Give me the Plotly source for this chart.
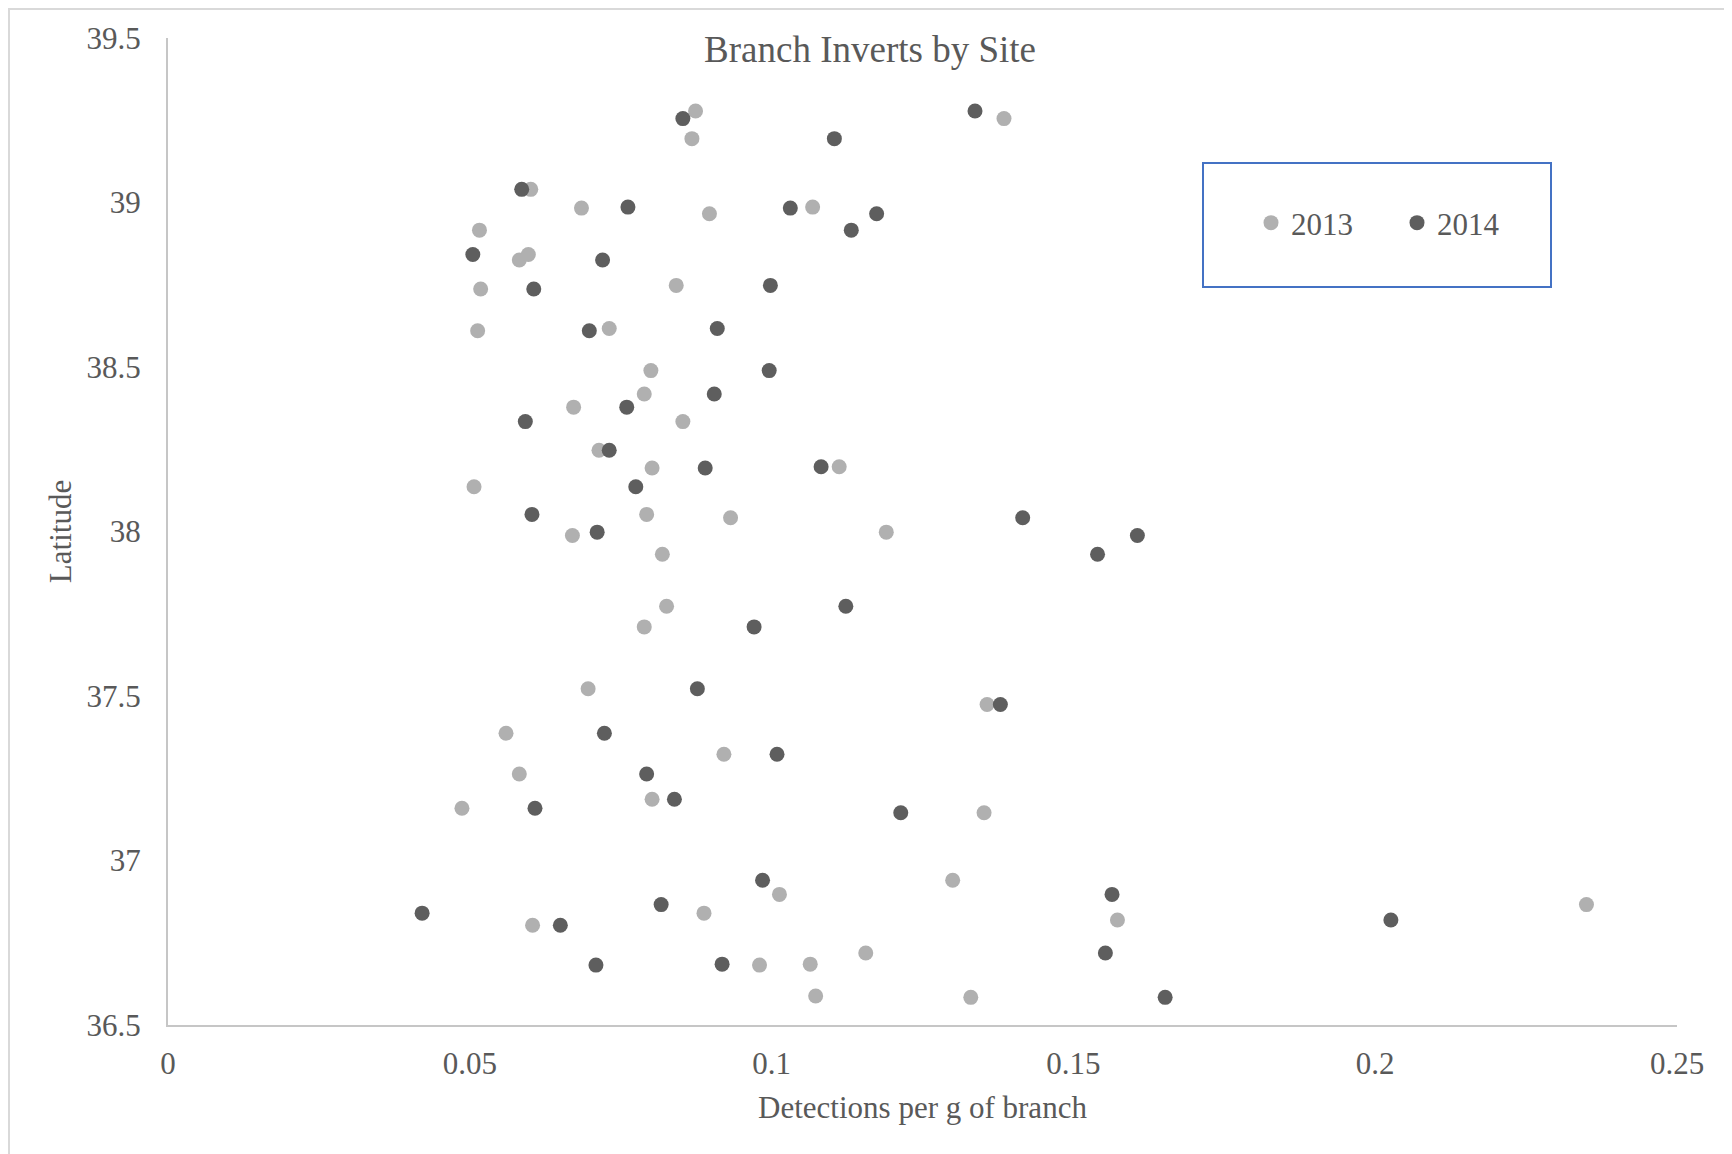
import plotly.graph_objects as go

# ---- data ----
x_2013 = [0.0874, 0.1385, 0.0868, 0.0601, 0.0685, 0.1068, 0.0897, 0.0516, 0.0582, 0.0597,
          0.0518, 0.0842, 0.0513, 0.0731, 0.0800, 0.0789, 0.0672, 0.0853, 0.0714, 0.0802,
          0.1112, 0.0507, 0.0793, 0.0932, 0.0670, 0.1190, 0.0819, 0.0826, 0.0789, 0.0696,
          0.1357, 0.0560, 0.0921, 0.0582, 0.0802, 0.0487, 0.1352, 0.1300, 0.1013, 0.1573,
          0.2350, 0.0888, 0.0604, 0.1156, 0.0980, 0.1064, 0.1073, 0.1330]
lat_2013 = [39.278, 39.255, 39.194, 39.040, 38.983, 38.986, 38.966, 38.916, 38.825, 38.842,
            38.737, 38.748, 38.610, 38.617, 38.489, 38.418, 38.378, 38.334, 38.247, 38.193,
            38.197, 38.136, 38.052, 38.042, 37.988, 37.998, 37.931, 37.773, 37.710, 37.522,
            37.474, 37.387, 37.323, 37.263, 37.186, 37.159, 37.145, 36.940, 36.897, 36.819,
            36.866, 36.840, 36.803, 36.719, 36.682, 36.685, 36.588, 36.584]

x_2014 = [0.0853, 0.1337, 0.1104, 0.0586, 0.0762, 0.1031, 0.1174, 0.1132, 0.0505, 0.0720,
          0.0606, 0.0998, 0.0698, 0.0910, 0.0996, 0.0905, 0.0760, 0.0592, 0.0731, 0.0890,
          0.1082, 0.0775, 0.0603, 0.1416, 0.0711, 0.1606, 0.1540, 0.1123, 0.0971, 0.0877,
          0.1379, 0.0723, 0.1009, 0.0793, 0.0839, 0.0608, 0.1214, 0.0985, 0.1564, 0.2026,
          0.0817, 0.0421, 0.0650, 0.1553, 0.0918, 0.0709, 0.1652]
lat_2014 = [39.255, 39.278, 39.194, 39.040, 38.986, 38.983, 38.966, 38.916, 38.842, 38.825,
            38.737, 38.748, 38.610, 38.617, 38.489, 38.418, 38.378, 38.334, 38.247, 38.193,
            38.197, 38.136, 38.052, 38.042, 37.998, 37.988, 37.931, 37.773, 37.710, 37.522,
            37.474, 37.387, 37.323, 37.263, 37.186, 37.159, 37.145, 36.940, 36.897, 36.819,
            36.866, 36.840, 36.803, 36.719, 36.685, 36.682, 36.584]

series_names = ["2013", "2014"]
x_ticks = [0, 0.05, 0.1, 0.15, 0.2, 0.25]
y_ticks = [36.5, 37, 37.5, 38, 38.5, 39, 39.5]

FONT = "Liberation Serif, Times New Roman, serif"
TXT = "#595959"
OFF = 8  # page body margin
W, H = 1732 - OFF, 1154 - OFF
# plot area in page pixels
L, R, T, B = 168, 1677, 38, 1025

def px(x):
    return (x - L) / (R - L)

def py(y):
    return 1 - (y - T) / (B - T)

fig = go.Figure()
fig.add_trace(go.Scatter(x=x_2013, y=lat_2013, mode="markers", name=series_names[0],
                         marker=dict(size=15, color="#b0b0b0", line=dict(width=0))))
fig.add_trace(go.Scatter(x=x_2014, y=lat_2014, mode="markers", name=series_names[1],
                         marker=dict(size=15, color="#5e5e5e", line=dict(width=0))))

fig.update_layout(
    width=W, height=H,
    margin=dict(l=L - OFF, r=1732 - R, t=T - OFF, b=1154 - B, pad=0),
    paper_bgcolor="white", plot_bgcolor="white",
    font=dict(family=FONT, color=TXT, size=31),
    title=dict(text="Branch Inverts by Site", x=(870 - OFF) / W, xanchor="center",
               y=1 - (49 - OFF) / H, yanchor="middle", yref="container",
               font=dict(family=FONT, size=37, color=TXT)),
    showlegend=True,
    legend=dict(orientation="h", x=px(1251), xanchor="left", y=py(223), yanchor="middle",
                bgcolor="rgba(0,0,0,0)", borderwidth=0,
                font=dict(family=FONT, size=31, color=TXT),
                entrywidth=101, entrywidthmode="pixels", itemsizing="trace"),
    xaxis=dict(range=[0, 0.25], tickvals=x_ticks, ticktext=[str(v) for v in x_ticks],
               showgrid=False, zeroline=False, showline=True, linecolor="#c6c6c6", linewidth=2,
               ticks="", ticklabelstandoff=10,
               tickfont=dict(family=FONT, size=31, color=TXT),
               title=dict(text="Detections per g of branch", standoff=16,
                          font=dict(family=FONT, size=31, color=TXT))),
    yaxis=dict(range=[36.5, 39.5], tickvals=y_ticks,
               showgrid=False, zeroline=False, showline=True, linecolor="#c6c6c6", linewidth=2,
               ticks="", ticklabelstandoff=19,
               tickfont=dict(family=FONT, size=31, color=TXT),
               title=dict(text="Latitude", standoff=6,
                          font=dict(family=FONT, size=31, color=TXT))),
    shapes=[
        dict(type="rect", xref="paper", yref="paper",
             x0=px(1203), x1=px(1551), y0=py(287), y1=py(163),
             line=dict(color="#4472c4", width=2), fillcolor="rgba(0,0,0,0)"),
        dict(type="rect", xref="paper", yref="paper",
             x0=px(9), x1=px(1800), y0=py(1200), y1=py(9),
             line=dict(color="#d9d9d9", width=2), fillcolor="rgba(0,0,0,0)", layer="below"),
    ],
)

fig.write_html("out.html")
